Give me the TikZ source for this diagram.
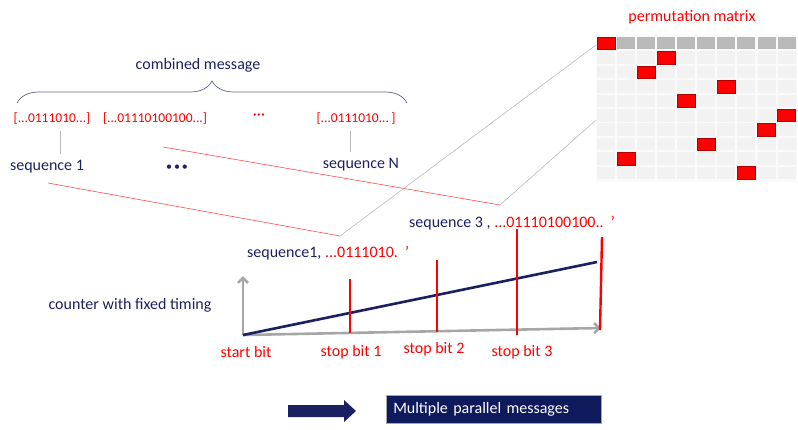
\documentclass[tikz,border=0pt]{standalone}
\usepackage{fontspec}
\setmainfont{Carlito}
\usetikzlibrary{positioning,decorations.pathreplacing,arrows.meta}
\definecolor{navy}{HTML}{1B2160}
\definecolor{bitred}{HTML}{FF0000}
\definecolor{axisgrey}{HTML}{A6A6A6}
\definecolor{boxnavy}{HTML}{0E1A5C}

\tikzset{
    txt/.style={font=\fontsize{16}{18}\selectfont, inner sep=0pt},
    navytxt/.style={txt, text=navy},
    redtxt/.style={txt, text=bitred},
    bits/.style={redtxt, font=\fontsize{13.5}{16}\selectfont},
    stem/.style={draw=axisgrey!80, line width=0.6pt},
    link/.style={draw=bitred!70, line width=0.6pt},
    glink/.style={draw=gray!55, line width=0.6pt},
    axis/.style={draw=axisgrey, line width=2.6pt, -{Straight Barb[length=5pt,width=10pt]}},
    stick/.style={draw=bitred, line width=2.4pt},
    cell/.style={fill=gray!10},
    hcell/.style={fill=gray!55},
    pcell/.style={fill=bitred, draw=red!70!black, line width=0.3pt},
    msgbox/.style={fill=boxnavy, draw=gray!70, line width=0.5pt, text=white,
        font=\fontsize{16}{18}\selectfont, minimum width=215pt, minimum height=28pt,
        text width=201pt, align=left, inner xsep=7pt},
}

\begin{document}
\begin{tikzpicture}[x=1pt, y=-1pt]
\useasboundingbox (0,0) rectangle (798,429);

% permutation matrix
\node[redtxt] (pm) at (692,17) {permutation matrix};
\fill[gray!4] (596,34) rectangle (797,182);
\foreach \c in {0,...,9}
    \fill[hcell] (596.7+20.1*\c,37) rectangle +(18,12);
\foreach \r in {1,...,9}
  \foreach \c in {0,...,9}
    \fill[cell] (596.7+20.1*\c,37+14.4*\r) rectangle +(18,12.5);
\foreach \c/\r in {0/0, 3/1, 2/2, 6/3, 4/4, 9/5, 8/6, 5/7, 1/8, 7/9}
    \filldraw[pcell] (596.7+20.1*\c,37+14.4*\r) rectangle +(18,12.5);
\coordinate (m1) at (596,45);
\coordinate (m2) at (596,120);

% combined message
\node[navytxt] (cm) at (198,65) {combined message};
\draw[navy!70, line width=0.7pt, decorate,
    decoration={brace, amplitude=22pt, aspect=0.5}] (17,103) -- (407,103);

\node[bits] (b1) at (52,119) {[...0111010...]};
\node[bits] (b2) at (155,119) {[...01110100100...]};
\node[bits, font=\fontsize{16}{18}\selectfont] (b3) at (259,117) {···};
\node[bits] (b4) at (356,119) {[...0111010...\,]};

\node[navytxt] (s1) at (47,167) {sequence 1};
\node[navytxt, font=\fontsize{12}{14}\selectfont] (s2) at (177,168) {•\,•\,•};
\node[navytxt] (sn) at (361,165) {sequence N};

\draw[stem] ([xshift=8pt,yshift=-6pt]b1.south) -- ([xshift=13pt,yshift=6pt]s1.north);
\draw[stem] ([xshift=-6pt,yshift=-6pt]b4.south) -- ([xshift=-11pt,yshift=6pt]sn.north);

% timing
\node[navytxt, anchor=west] (q3) at (409,223)
    {sequence 3 , \textcolor{bitred}{...01110100100..\ \ ’}};
\node[navytxt, anchor=west] (q1) at (247,253)
    {sequence1, \textcolor{bitred}{...0111010.\ \ ’}};

\coordinate (k1) at (340,236);
\coordinate (k2) at (500,205);
\coordinate (r1) at (48,183);
\coordinate (r2) at (163,147);
\draw[link] (r1) -- (k1);
\draw[link] (r2) -- (k2);
\draw[glink] (k1) -- (m1);
\draw[glink] (k2) -- (m2);

\node[navytxt] (ct) at (130,305) {counter with fixed timing};

\coordinate (o) at (243,335);
\draw[axis] (o) -- (243,276);
\draw[axis] (o) -- (601,328);
\draw[navy, line width=2.6pt] (o) -- (597,262);

\draw[stick] (350,279) -- (350,333);
\draw[stick] (437,260) -- (437,332);
\draw[stick] (517,229) -- (517,335);
\draw[stick] (602,237) -- (600,330);

\node[redtxt] (sb) at (246,352) {start bit};
\node[redtxt] (e1) at (351,352) {stop bit 1};
\node[redtxt] (e2) at (434,349) {stop bit 2};
\node[redtxt] (e3) at (522,352) {stop bit 3};

% output
\fill[navy] (288,405) -- (344,405) -- (344,400) -- (356,411)
    -- (344,422) -- (344,417) -- (288,417) -- cycle;
\node[msgbox, anchor=north west] (mb) at (386,395) {Multiple parallel messages};

\end{tikzpicture}
\end{document}
